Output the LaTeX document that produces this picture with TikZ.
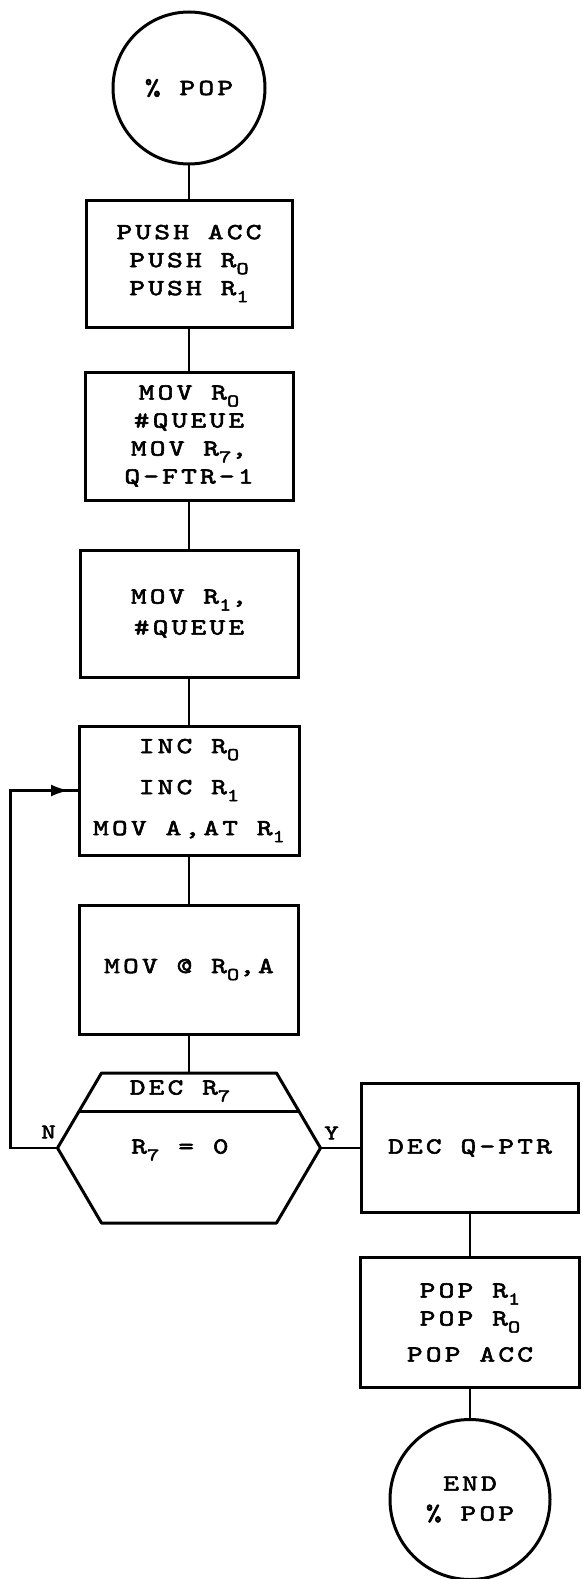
\documentclass[tikz,border=0pt]{standalone}
\usepackage{fontspec}
\usepackage{tikz}
\usetikzlibrary{arrows.meta,positioning,calc}
\newfontfamily\maquina[Extension=.otf,LetterSpace=14,FakeStretch=1.3,FakeBold=2.5]{lmmono10-regular}
\newcommand{\rsub}[1]{\raisebox{-7pt}{\fontsize{18}{18}\selectfont #1}}

\begin{document}
\begin{tikzpicture}[x=1pt,y=-1pt,
caja/.style={draw,line width=3pt,outer sep=0pt,minimum width=208pt,minimum height=128pt,align=center,inner sep=2pt,font=\maquina\fontsize{23}{28}\selectfont},
term/.style={draw,circle,line width=3pt,outer sep=0pt,minimum size=152pt,align=center,inner sep=0pt,font=\maquina\fontsize{23}{30}\selectfont},
texto/.style={inner sep=1pt,font=\maquina\fontsize{23}{28}\selectfont},
etiq/.style={inner sep=1pt,font=\maquina\fontsize{21}{21}\selectfont},
linea/.style={line width=2.5pt},
flecha/.style={-{Latex[length=18pt,width=12pt]},line width=2.5pt}
]
\useasboundingbox (0,0) rectangle (583,1579);
\node[term] (inicio) at (189,88) {\% POP};

\node[caja,below=36pt of inicio,minimum width=206pt,minimum height=127pt] (push) {PUSH ACC\\PUSH R\rsub{O}\\PUSH R\rsub{1}};
\node[caja,below=45pt of push] (movq) {MOV R\rsub{O}\\\#QUEUE\\MOV R\rsub{7},\\Q-FTR-1};
\node[caja,below=50pt of movq,minimum width=218pt,minimum height=127pt] (movr) {MOV R\rsub{1},\\[3pt]\#QUEUE};
\node[caja,below=49pt of movr,minimum width=220pt,minimum height=129pt] (inc) {INC R\rsub{O}\\[13pt]INC R\rsub{1}\\[13pt]MOV A,AT R\rsub{1}};
\node[caja,below=50pt of inc,minimum width=219pt,minimum height=129pt] (mova) {MOV @ R\rsub{O},A};

% decision
\node[below=39pt of mova,minimum width=263pt,minimum height=150pt,inner sep=0pt,outer sep=0pt] (dec) {};
\draw[line width=3pt,line join=round] ($(dec.north west)+(44,0)$) -- ($(dec.north east)+(-44,0)$) -- (dec.east)
  -- ($(dec.south east)+(-44,0)$) -- ($(dec.south west)+(44,0)$) -- (dec.west) -- cycle;
\draw[line width=3pt] ($(dec.north west)+(22,38)$) -- ($(dec.north east)+(-22,38)$);
\node[texto] (decr) at ($(dec.north)+(-9,18)$) {DEC R\rsub{7}};
\node[texto] (cero) at ($(dec.center)+(-9,2)$) {R\rsub{7} = 0};
\node[etiq] (labn) at ($(dec.west)+(-9,-16)$) {N};
\node[etiq] (laby) at ($(dec.east)+(11,-15)$) {Y};

\node[caja,right=41pt of dec,minimum width=217pt,minimum height=129pt] (decq) {DEC Q-PTR};
\node[caja,below=45pt of decq,minimum width=219pt,minimum height=130pt] (pop) {POP R\rsub{1}\\POP R\rsub{O}\\[8pt]POP ACC};
\node[term,below=32pt of pop,minimum size=160pt] (fin) {END\\\% POP};

\draw[linea] (inicio.south) -- (push.north);
\draw[linea] (push.south) -- (movq.north);
\draw[linea] (movq.south) -- (movr.north);
\draw[linea] (movr.south) -- (inc.north);
\draw[linea] (inc.south) -- (mova.north);
\draw[linea] (mova.south) -- (dec.north);
\draw[linea] (dec.east) -- (decq.west);
\draw[linea] (decq.south) -- (pop.north);
\draw[linea] (pop.south) -- (fin.north);

% vuelta N
\coordinate (codo) at ($(inc.west)+(-65,0)$);
\draw[linea] (dec.west) -- ++(-47,0) |- (inc.west);
\draw[flecha] (codo) -- ($(inc.west)+(-10,0)$);
\end{tikzpicture}
\end{document}
